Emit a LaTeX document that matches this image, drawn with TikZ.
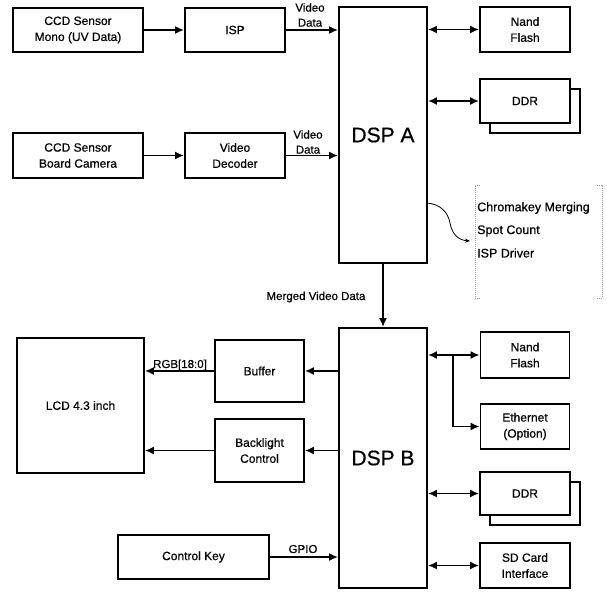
\documentclass[tikz,border=0pt]{standalone}
\usepackage{fontspec}
\setmainfont{Liberation Sans}[BoldFont={Liberation Sans},BoldFeatures={FakeBold=0.6}]
\usetikzlibrary{arrows.meta,shadows}
\begin{document}
\begin{tikzpicture}[x=1pt,y=-1pt,
  box/.style={draw, line width=1.8pt, fill=white, align=center, inner sep=0pt, font=\fontsize{12}{16}\selectfont\bfseries},
  big/.style={font=\fontsize{21}{24}\selectfont\bfseries},
  shadowed/.style={copy shadow={shadow xshift=10pt, shadow yshift=-10pt}},
  arr/.style={line width=1.8pt, -{Latex[length=9pt,width=8pt]}},
  darr/.style={line width=1.8pt, {Latex[length=9pt,width=8pt]}-{Latex[length=9pt,width=8pt]}},
  lbl/.style={font=\fontsize{11.5}{15}\selectfont\bfseries, align=center, inner sep=0pt},
  itm/.style={font=\fontsize{12.5}{15}\selectfont\bfseries, anchor=west, inner sep=0pt},
  brk/.style={gray!80, densely dotted, line width=1pt},
  ]
\useasboundingbox (0,0) rectangle (607,591);
% top row
\node[box, minimum width=130pt, minimum height=44pt] (ccdA) at (78,30) {CCD Sensor\\Mono (UV Data)};
\node[box, minimum width=100pt, minimum height=44pt] (isp) at (235,30) {ISP};
\node[box, minimum width=130pt, minimum height=45pt] (ccdB) at (78,155.5) {CCD Sensor\\Board Camera};
\node[box, minimum width=100pt, minimum height=45pt] (vdec) at (235,155.5) {Video\\Decoder};
\node[box, big, minimum width=88pt, minimum height=256pt] (dspa) at (383,135) {DSP A};
\node[box, minimum width=90pt, minimum height=45pt] (nandA) at (525,29.5) {Nand\\Flash};
\node[box, shadowed, minimum width=90pt, minimum height=44pt] (ddrA) at (525,101) {DDR};

\draw[arr] (ccdA) -- (isp);
\draw[arr] (ccdB) -- (vdec);
\draw[arr] (isp) -- (dspa.west |- isp);
\draw[arr] (vdec) -- (dspa.west |- vdec);
\node[lbl] (vd1) at (310,15) {Video\\Data};
\node[lbl] (vd2) at (308,142) {Video\\Data};
\draw[darr] (dspa.east |- nandA) -- (nandA);
\draw[darr] (dspa.east |- ddrA) -- (ddrA);

% bracket
\draw[brk] (480,185) -- (475,185) -- (475,298) -- (480,298);
\draw[brk] (597,185) -- (602,185) -- (602,298) -- (597,298);
\node[itm] (t1) at (477,208) {Chromakey Merging};
\node[itm] (t2) at (477,231) {Spot Count};
\node[itm] (t3) at (477,253) {ISP Driver};
\coordinate (cs) at (427,203);
\coordinate (ce) at (470,241);
\draw[line width=0.8pt, -{Stealth[length=5pt,width=4pt]}] (cs) .. controls (440,204) and (448,212) .. (450,223) .. controls (452,234) and (458,240) .. (ce);

% bottom
\node[box, big, minimum width=88pt, minimum height=260pt] (dspb) at (383,458) {DSP B};
\draw[arr] (dspa.south) -- (dspb.north);
\node[lbl] (mvd) at (316,297) {Merged Video Data};

\node[box, minimum width=127pt, minimum height=135pt] (lcd) at (80.5,405.5) {LCD 4.3 inch};
\node[box, minimum width=89pt, minimum height=62pt] (buf) at (259.5,371) {Buffer};
\node[box, minimum width=89pt, minimum height=63pt] (bl) at (259.5,450.5) {Backlight\\Control};
\node[box, minimum width=151pt, minimum height=44pt] (ckey) at (193.5,557) {Control Key};
\draw[arr] (dspb.west |- buf) -- (buf);
\draw[arr] (dspb.west |- bl) -- (bl);
\draw[arr] (buf) -- (lcd.east |- buf);
\draw[arr] (bl) -- (lcd.east |- bl);
\node[lbl] (rgb) at (180,365) {RGB[18:0]};
\draw[arr] (ckey) -- (dspb.west |- ckey);
\node[lbl] (gpio) at (303,549) {GPIO};

\node[box, minimum width=89pt, minimum height=46pt] (nandB) at (525,355) {Nand\\Flash};
\node[box, minimum width=89pt, minimum height=45pt] (eth) at (525,426.5) {Ethernet\\(Option)};
\node[box, shadowed, minimum width=90pt, minimum height=43pt] (ddrB) at (525,493.5) {DDR};
\node[box, minimum width=90pt, minimum height=45pt] (sd) at (525,565.5) {SD Card\\Interface};
\draw[darr] (dspb.east |- nandB) -- (nandB);
\coordinate (br) at (453,355);
\draw[arr] (br) |- (eth);
\draw[darr] (dspb.east |- ddrB) -- (ddrB);
\draw[darr] (dspb.east |- sd) -- (sd);
\end{tikzpicture}
\end{document}
